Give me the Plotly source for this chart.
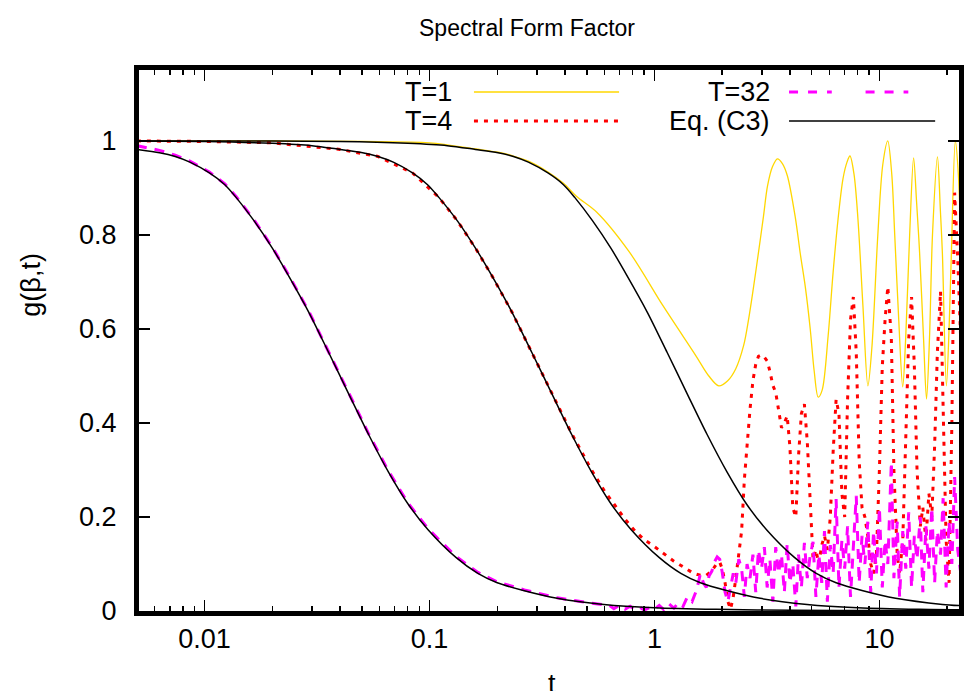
import plotly.graph_objects as go

# ---------------- data ----------------
# Eq. (C3) curves (black)
tA = [0.005, 0.0063, 0.0074, 0.0086, 0.0105, 0.0123, 0.0138, 0.0166, 0.0200, 0.0237, 0.0291, 0.0356,
      0.0437, 0.0535, 0.0656, 0.0804, 0.0985, 0.131, 0.164, 0.200, 0.264, 0.369, 0.596, 1.00, 1.88,
      4.23, 10.0, 23.5]
gA = [0.982, 0.975, 0.967, 0.955, 0.932, 0.907, 0.880, 0.830, 0.772, 0.712, 0.635, 0.550,
      0.462, 0.376, 0.296, 0.227, 0.173, 0.114, 0.080, 0.060, 0.043, 0.027, 0.014, 0.007, 0.0035,
      0.0015, 0.0008, 0.0005]

tB = [0.005, 0.01, 0.02, 0.03, 0.040, 0.0504, 0.059, 0.069, 0.084, 0.098, 0.110, 0.133, 0.160, 0.190,
      0.233, 0.285, 0.350, 0.428, 0.525, 0.643, 0.788, 1.048, 1.31, 1.60, 2.11, 2.95, 4.77, 8.0, 15.0, 23.5]
gB = [1.0, 0.999, 0.995, 0.99, 0.982, 0.975, 0.967, 0.955, 0.932, 0.907, 0.880, 0.830, 0.772, 0.712,
      0.635, 0.550, 0.462, 0.376, 0.296, 0.227, 0.173, 0.114, 0.080, 0.060, 0.043, 0.027, 0.014, 0.007,
      0.0035, 0.0025]

tC = [0.005, 0.01, 0.02, 0.04, 0.08, 0.12, 0.16, 0.2016, 0.236, 0.275, 0.336, 0.394, 0.442, 0.531,
      0.640, 0.758, 0.931, 1.139, 1.398, 1.712, 2.10, 2.57, 3.15, 4.19, 5.24, 6.42, 8.45, 11.8, 19.1, 23.5]
gC = [1.0, 1.0, 0.9998, 0.999, 0.995, 0.99, 0.982, 0.975, 0.967, 0.955, 0.932, 0.907, 0.880, 0.830,
      0.772, 0.712, 0.635, 0.550, 0.462, 0.376, 0.296, 0.227, 0.173, 0.114, 0.080, 0.060, 0.043, 0.027,
      0.014, 0.011]

# T=1 (gold)
t_T1 = [0.005, 0.02, 0.05, 0.1, 0.16, 0.2016, 0.236, 0.275, 0.336, 0.394, 0.4508, 0.5526, 0.7728,
        1.0926, 1.5287, 1.7447, 1.9317, 2.1169, 2.2962, 2.4917, 2.6218, 2.7587, 2.9024, 3.0532, 3.1801,
        3.3459, 3.5207, 3.7043, 3.8977, 4.229, 4.450, 4.682, 4.926, 5.131, 5.344, 5.566, 5.916, 6.225,
        6.550, 6.891, 7.178, 7.400, 7.708, 8.028, 8.447, 8.889, 9.258, 9.840, 10.354, 10.894, 11.347,
        11.700, 12.187, 12.694, 13.087, 13.630, 14.192, 14.632, 15.085, 15.712, 16.199, 16.700, 17.219,
        18.118, 18.678, 19.061, 19.855, 20.472, 20.891, 21.760, 22.432, 23.3]
g_T1 = [1.0, 1.0, 0.999, 0.996, 0.983, 0.976, 0.968, 0.957, 0.934, 0.910, 0.882, 0.849, 0.764,
        0.649, 0.543, 0.500, 0.479, 0.490, 0.515, 0.565, 0.621, 0.690, 0.764, 0.840, 0.904,
        0.945, 0.962, 0.952, 0.926, 0.837, 0.760, 0.690, 0.600, 0.510, 0.455, 0.470, 0.585, 0.720,
        0.834, 0.920, 0.955, 0.968, 0.930, 0.834, 0.650, 0.479, 0.560, 0.800, 0.950, 1.000, 0.930,
        0.800, 0.620, 0.477, 0.580, 0.800, 0.964, 0.870, 0.764, 0.580, 0.451, 0.580, 0.800,
        0.966, 0.850, 0.760, 0.479, 0.620, 0.760, 1.000, 0.930, 0.700]

# T=4 (red)
t_T4 = [0.005, 0.01, 0.02, 0.04, 0.059, 0.084, 0.110, 0.133, 0.16, 0.19, 0.233, 0.285, 0.35, 0.428,
        0.525, 0.60, 0.66, 0.74, 0.82, 0.90, 1.00, 1.10, 1.22, 1.34, 1.47, 1.54, 1.60, 1.65, 1.70, 1.75,
        1.80, 1.85, 1.90, 1.95, 2.00, 2.06, 2.12, 2.18, 2.24, 2.30, 2.37, 2.44, 2.51, 2.58, 2.66, 2.74,
        2.82, 2.90, 2.99, 3.08, 3.17, 3.26, 3.36, 3.46, 3.56, 3.67, 3.78, 3.89, 4.00, 4.12, 4.25, 4.37,
        4.50, 4.64, 4.78, 4.92, 5.07, 5.22, 5.38, 5.54, 5.70, 5.87, 6.05, 6.23, 6.42, 6.61, 6.81, 7.01,
        7.22, 7.44, 7.66, 7.89, 8.13, 8.37, 8.62, 8.88, 9.15, 9.42, 9.70, 10.0, 10.3, 10.6, 10.9, 11.3,
        11.6, 12.0, 12.3, 12.7, 13.1, 13.5, 13.9, 14.3, 14.7, 15.2, 15.6, 16.1, 16.6, 17.1, 17.6, 18.1,
        18.7, 19.2, 19.8, 20.4, 21.0, 21.6, 22.3, 23.3]
g_T4 = [1.0, 0.999, 0.996, 0.982, 0.967, 0.932, 0.880, 0.830, 0.772, 0.712, 0.635, 0.550, 0.462, 0.378,
        0.300, 0.255, 0.228, 0.195, 0.170, 0.152, 0.137, 0.122, 0.106, 0.094, 0.082, 0.078, 0.076, 0.075,
        0.076, 0.080, 0.085, 0.094, 0.102, 0.104, 0.090, 0.060, 0.020, 0.004, 0.030, 0.070, 0.120, 0.170,
        0.280, 0.360, 0.430, 0.490, 0.525, 0.542, 0.545, 0.540, 0.532, 0.510, 0.480, 0.465, 0.430, 0.390,
        0.400, 0.415, 0.350, 0.220, 0.200, 0.330, 0.420, 0.440, 0.360, 0.220, 0.110, 0.130, 0.100, 0.140,
        0.160, 0.130, 0.200, 0.340, 0.450, 0.420, 0.250, 0.200, 0.450, 0.620, 0.668, 0.550, 0.320, 0.220,
        0.200, 0.160, 0.100, 0.080, 0.120, 0.300, 0.520, 0.620, 0.690, 0.580, 0.300, 0.120, 0.080, 0.150,
        0.350, 0.580, 0.668, 0.520, 0.300, 0.180, 0.220, 0.150, 0.250, 0.200, 0.350, 0.550, 0.680, 0.450,
        0.150, 0.060, 0.400, 0.890, 0.750, 0.500]

# T=32 (magenta)
t_T32 = [0.005, 0.0063, 0.0074, 0.0086, 0.0105, 0.0123, 0.0138, 0.0166, 0.0200, 0.0237, 0.0291, 0.0356,
         0.0437, 0.0535, 0.0656, 0.0804, 0.0985, 0.131, 0.164, 0.200, 0.264, 0.369, 0.50,
         0.60, 0.63, 0.66, 0.70, 0.74, 0.78, 0.82, 0.86, 0.90, 0.95, 1.00, 1.05, 1.10, 1.16, 1.22, 1.28,
         1.34, 1.40, 1.47, 1.54, 1.60, 1.65, 1.70, 1.75, 1.80, 1.85, 1.90, 1.95, 2.00, 2.06, 2.12, 2.18,
         2.24, 2.30, 2.37, 2.44, 2.51, 2.58, 2.66, 2.74, 2.82, 2.90, 2.99, 3.08, 3.17, 3.26, 3.36, 3.46,
         3.56, 3.67, 3.78, 3.89, 4.00, 4.12, 4.25, 4.37, 4.50, 4.64, 4.78, 4.92, 5.07, 5.22, 5.38, 5.54,
         5.70, 5.87, 6.05, 6.23, 6.42, 6.61, 6.81, 7.01, 7.22, 7.44, 7.66, 7.89, 8.13, 8.37, 8.62, 8.88,
         9.15, 9.42, 9.70, 10.0, 10.3, 10.6, 10.9, 11.3, 11.6, 12.0, 12.3, 12.7, 13.1, 13.5, 13.9, 14.3,
         14.7, 15.2, 15.6, 16.1, 16.6, 17.1, 17.6, 18.1, 18.7, 19.2, 19.8, 20.4, 21.0, 21.6, 22.3, 23.3]
g_T32 = [0.990, 0.980, 0.970, 0.957, 0.934, 0.909, 0.882, 0.832, 0.774, 0.714, 0.637, 0.552,
         0.464, 0.378, 0.298, 0.229, 0.175, 0.116, 0.082, 0.062, 0.045, 0.028, 0.018,
         0.014, 0.012, 0.005, 0.012, 0.004, 0.010, 0.003, 0.008, 0.002, 0.007, 0.004, 0.012, 0.003, 0.015,
         0.006, 0.018, 0.010, 0.030, 0.020, 0.045, 0.079, 0.060, 0.050, 0.075, 0.085, 0.105, 0.115, 0.110,
         0.083, 0.040, 0.020, 0.050, 0.080, 0.060, 0.110, 0.090, 0.030, 0.100, 0.070, 0.120, 0.040, 0.130,
         0.090, 0.136, 0.050, 0.110, 0.020, 0.136, 0.080, 0.120, 0.040, 0.143, 0.060, 0.100, 0.010, 0.120,
         0.050, 0.145, 0.070, 0.117, 0.147, 0.030, 0.120, 0.060, 0.170, 0.020, 0.140, 0.080, 0.238, 0.050,
         0.150, 0.090, 0.180, 0.030, 0.130, 0.245, 0.060, 0.160, 0.100, 0.190, 0.040, 0.170, 0.080, 0.220,
         0.050, 0.150, 0.100, 0.317, 0.070, 0.190, 0.030, 0.170, 0.090, 0.210, 0.050, 0.160, 0.110, 0.200,
         0.040, 0.180, 0.090, 0.220, 0.060, 0.170, 0.120, 0.240, 0.050, 0.190, 0.100, 0.285, 0.130, 0.060]

x_tickvals = [0.01, 0.1, 1, 10]
x_ticktext = ["0.01", "0.1", "1", "10"]
x_minor = [0.005, 0.006, 0.007, 0.008, 0.009, 0.02, 0.03, 0.04, 0.05, 0.06, 0.07, 0.08, 0.09,
           0.2, 0.3, 0.4, 0.5, 0.6, 0.7, 0.8, 0.9, 2, 3, 4, 5, 6, 7, 8, 9, 20]
y_tickvals = [0, 0.2, 0.4, 0.6, 0.8, 1]
y_ticktext = ["0", "0.2", "0.4", "0.6", "0.8", "1"]

# ---------------- figure ----------------
FONT = "Liberation Sans, Arial, Helvetica, sans-serif"
GOLD = "#ffd700"
RED = "#ff0000"
MAG = "#ff00ff"

fig = go.Figure()
fig.add_trace(go.Scatter(x=t_T1, y=g_T1, mode="lines", name="T=1",
                         line=dict(color=GOLD, width=1.3, shape="spline", smoothing=0.9)))
fig.add_trace(go.Scatter(x=t_T4, y=g_T4, mode="lines", name="T=4",
                         line=dict(color=RED, width=3, dash="4px,6px")))
fig.add_trace(go.Scatter(x=t_T32, y=g_T32, mode="lines", name="T=32",
                         line=dict(color=MAG, width=3, dash="10px,8px")))
for tt, gg in ((tA, gA), (tB, gB), (tC, gC)):
    fig.add_trace(go.Scatter(x=tt, y=gg, mode="lines", name="Eq. (C3)",
                             line=dict(color="black", width=1.5, shape="spline", smoothing=0.8)))

# body margin is removed (post_script), so figure px == screen px
W, H = 964, 691
L, R, T, B = 139, 964, 70, 611   # plot area
pw, ph = R - L, B - T


def px(x):          # screen px -> paper
    return (x - L) / pw


def py(y):
    return (B - y) / ph


axis_common = dict(showline=True, linewidth=5, linecolor="black", mirror="allticks",
                   ticks="inside", tickwidth=1.5, tickcolor="black", showgrid=False,
                   zeroline=False, tickfont=dict(family=FONT, size=27, color="black"))

fig.update_layout(
    width=W, height=H,
    margin=dict(l=L, r=W - R, t=T, b=H - B, pad=0),
    paper_bgcolor="white", plot_bgcolor="white",
    showlegend=False,
    title=dict(text="Spectral Form Factor", x=527 / W, xanchor="center", y=1 - 28 / H,
               yanchor="middle", font=dict(family=FONT, size=23, color="black")),
    xaxis=dict(type="log", range=[-2.2917, 1.3539], tickmode="array", tickvals=x_tickvals,
               ticktext=x_ticktext, ticklen=11, ticklabelstandoff=0,
               minor=dict(tickmode="array", tickvals=x_minor, ticks="inside", ticklen=5,
                          tickwidth=1.5, tickcolor="black", showgrid=False),
               **axis_common),
    yaxis=dict(range=[0, 1.151], tickmode="array", tickvals=y_tickvals, ticktext=y_ticktext,
               ticklen=11, ticklabelstandoff=12, **axis_common),
)

# axis titles
fig.add_annotation(text="t", x=px(555), y=py(684), xref="paper", yref="paper", showarrow=False,
                   xanchor="center", yanchor="middle", font=dict(family=FONT, size=27, color="black"))
fig.add_annotation(text="g(β,t)", x=px(30), y=py(285), xref="paper", yref="paper", showarrow=False,
                   textangle=-90, xanchor="center", yanchor="middle",
                   font=dict(family=FONT, size=27, color="black"))

# key (gnuplot style: text to the left of the sample)
key = [("T=1", 456, 92, [(476, 622)], dict(color=GOLD, width=1.3)),
       ("T=4", 456, 121, [(476, 622)], dict(color=RED, width=3, dash="4px,6px")),
       ("T=32", 776, 92, [(793, 836), (870, 913)], dict(color=MAG, width=3, dash="9px,10px")),
       ("Eq. (C3)", 776, 121, [(793, 940)], dict(color="black", width=1.5))]
for label, xt, yk, segs, ln in key:
    fig.add_annotation(text=label, x=px(xt), y=py(yk), xref="paper", yref="paper", showarrow=False,
                       xanchor="right", yanchor="middle", font=dict(family=FONT, size=27, color="black"))
    for x0, x1 in segs:
        fig.add_shape(type="line", xref="paper", yref="paper", x0=px(x0), x1=px(x1),
                      y0=py(yk), y1=py(yk), line=ln)

fig.write_html("out.html",
               config={"displayModeBar": False, "staticPlot": True},
               post_script="document.body.style.margin='0px';"
                           "document.documentElement.style.overflow='hidden';"
                           "document.body.style.overflow='hidden';")
